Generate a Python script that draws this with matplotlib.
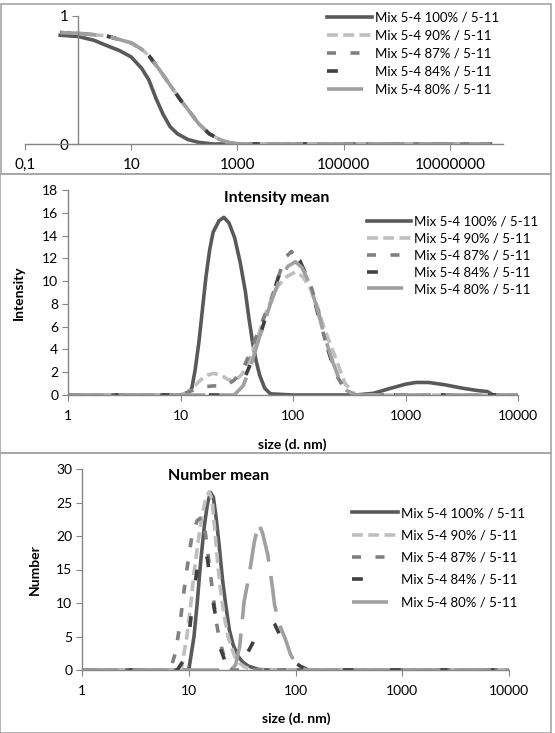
import matplotlib
matplotlib.use("Agg")
import matplotlib.pyplot as plt
from matplotlib.patches import Rectangle

plt.rcParams['font.family'] = ['Lato', 'DejaVu Sans']

# ---- data ----
series_names = ["Mix 5-4 100% / 5-11", "Mix 5-4 90% / 5-11", "Mix 5-4 87% / 5-11",
                "Mix 5-4 84% / 5-11", "Mix 5-4 80% / 5-11"]

# top panel (correlation-like decay)
corr_x_100 = [0.46, 1, 2, 3.4, 6, 10, 15.8, 21.5, 29, 40, 54, 74, 117, 185, 340, 1e3, 1e5, 1e7, 5.8e7]
corr_100 = [0.85, 0.84, 0.81, 0.77, 0.73, 0.68, 0.59, 0.50, 0.36, 0.23, 0.135, 0.08, 0.035, 0.013, 0, 0, 0, 0, 0]
corr_x_rest = [0.46, 1, 3.4, 10, 15.8, 21.5, 34, 54, 86, 117, 185, 294, 464, 730, 1170, 1e5, 1e7, 5.8e7]
corr_rest = [0.87, 0.865, 0.845, 0.79, 0.74, 0.69, 0.58, 0.46, 0.34, 0.27, 0.16, 0.08, 0.035, 0.008, 0, 0, 0, 0]

# intensity panel
int_x_100 = [1, 10, 11.5, 12.6, 13.5, 14.6, 15.7, 16.9, 18.2, 19.5, 22, 24.3, 27, 30.3, 34, 37.7, 40.5,
             43.6, 47, 50.5, 56, 63, 100, 360, 519, 745, 1000, 1240, 1600, 2230, 3200, 4300, 5350, 6000, 10000]
int_100 = [0, 0, 0.15, 0.6, 2.2, 4.7, 7.6, 10.5, 12.8, 14.3, 15.3, 15.6, 15.1, 13.8, 11.6, 9.1, 6.8,
           4.7, 3.0, 1.75, 0.6, 0.1, 0, 0, 0.15, 0.6, 0.95, 1.1, 1.1, 0.9, 0.6, 0.4, 0.3, 0, 0]
int_x_90 = [1, 10, 11.5, 13, 15, 17.5, 19.6, 23, 26, 30, 35, 40.5, 47, 54, 63, 72.5, 88, 105, 122,
            140, 163, 187, 234, 290, 360, 10000]
int_90 = [0, 0, 0.2, 0.7, 1.3, 1.75, 1.9, 1.75, 1.4, 1.2, 1.8, 3.0, 4.6, 6.5, 8.2, 9.5, 10.4, 10.8, 10.4,
          9.5, 7.9, 6.0, 3.5, 1.0, 0, 0]
int_x_87 = [1, 10, 12, 15, 20, 25, 30, 36, 42, 50, 63, 75, 84, 97, 110, 125, 140, 165, 187, 215, 251,
            290, 340, 10000]
int_87 = [0, 0, 0.3, 0.7, 0.8, 0.8, 1.3, 2.3, 3.8, 5.8, 8.2, 10.5, 12.0, 12.6, 12.0, 11.0, 10.0, 7.7,
          5.3, 3.4, 1.5, 0.5, 0, 0]
int_x_84 = [1, 25, 31, 36, 44, 52, 63, 75, 88, 100, 115, 135, 160, 187, 220, 262, 300, 350, 10000]
int_84 = [0, 0, 0.3, 1.2, 3.2, 5.5, 8.2, 10.5, 12.0, 12.4, 11.8, 10.2, 7.8, 5.2, 3.0, 1.2, 0.4, 0, 0]
int_x_80 = [1, 30, 36, 42, 50, 63, 75, 90, 105, 120, 140, 165, 190, 220, 255, 300, 350, 10000]
int_80 = [0, 0, 0.8, 2.5, 5.0, 8.0, 10.0, 11.3, 11.7, 11.2, 9.8, 7.5, 5.2, 3.2, 1.5, 0.4, 0, 0]

# number panel
num_x_100 = [1, 10, 11.2, 12.0, 12.9, 14.0, 15, 16, 17, 18, 19.3, 20.7, 22.3, 24, 26, 28.8, 32, 36,
             44.6, 55, 10000]
num_100 = [0, 0, 5, 10, 16, 21.5, 24.9, 26.5, 25.8, 22.9, 18.5, 13.5, 9.5, 6, 3.8, 2.1, 1.2, 0.6,
           0.1, 0, 0]
num_x_90 = [1, 8.5, 9.6, 10.4, 11.2, 12.2, 13.3, 14.4, 15.5, 16.5, 17.5, 18.8, 20, 21.5, 23.5, 26.8,
            30, 33, 40, 10000]
num_90 = [0, 0, 5, 9.5, 14.5, 19, 23, 25.5, 26.6, 25.5, 21, 15.5, 11.5, 8, 4.8, 2.1, 1.0, 0.5, 0, 0]
num_x_87 = [1, 6.3, 7.0, 7.5, 8.3, 9.3, 10.7, 12, 13.2, 14.3, 15.5, 16.8, 18, 19.4, 21, 22.6, 25, 28,
            10000]
num_87 = [0, 0, 1.0, 2.5, 7, 13.5, 20, 22.3, 22.8, 20.5, 16, 11.5, 7.5, 4.5, 2.5, 1, 0.2, 0, 0]
num_x_84 = [1, 7.8, 9, 10, 10.7, 11.6, 12.4, 13.2, 14, 15, 16, 17, 18.5, 20, 22, 24, 26.8, 30, 34,
            38.8, 45, 52, 57, 64, 75, 88, 98, 110, 124, 140, 10000]
num_84 = [0, 0, 1.5, 5, 9, 13.5, 16.5, 18.2, 18.5, 16.5, 13, 10, 6.5, 3, 1.2, 0.5, 0.3, 0.8, 2,
          3.7, 5.8, 7.3, 7.7, 6.8, 4.5, 2.3, 1.2, 0.6, 0.2, 0, 0]
num_x_80 = [1, 25, 27.5, 30, 33, 37, 41, 45, 49, 55, 60, 64, 72, 80, 90, 100, 115, 130, 10000]
num_80 = [0, 0, 0.8, 3.5, 10.2, 14.4, 19, 21.9, 20.5, 17.2, 13, 9.5, 6.5, 4.7, 2.3, 1.0, 0.2, 0, 0]

colors = ["#595959", "#bfbfbf", "#808080", "#404040", "#a0a0a0"]
dashes = ["-", (0, (3, 1.5)), (0, (2.5, 4)), (0, (3, 10)), (0, (10, 4))]
LW = 2.6
AXC = "#868686"

W, H = 555.0, 733.0


def box(l, t, r, b):
    return [l / W, 1 - b / H, (r - l) / W, (b - t) / H]


fig = plt.figure(figsize=(W / 100, H / 100), dpi=100)

# panel frames
for (l, t, r, b) in [(1, 4, 551, 174), (0, 174, 551, 453), (0, 453, 551, 733)]:
    fig.add_artist(Rectangle((l / W, 1 - b / H), (r - l) / W, (b - t) / H, transform=fig.transFigure,
                             fill=False, edgecolor="#a6a6a6", lw=1.2))


def style_axes(ax, fs):
    for s in ["top", "right"]:
        ax.spines[s].set_visible(False)
    for s in ["left", "bottom"]:
        ax.spines[s].set_color(AXC)
        ax.spines[s].set_linewidth(1.0)
    ax.tick_params(axis="both", which="major", length=4, color=AXC, labelsize=fs, pad=3)
    ax.tick_params(axis="both", which="minor", length=0)
    ax.set_facecolor("none")


def add_legend(ax, handles, left, top, spacing, hl):
    ax.legend(handles, series_names, loc="upper left", bbox_to_anchor=(left / W, 1 - top / H),
              bbox_transform=fig.transFigure, frameon=False, borderpad=0, borderaxespad=0,
              handlelength=hl, handletextpad=0.25, labelspacing=spacing, fontsize=9.5)


# ---- top panel ----
ax1 = fig.add_axes(box(25, 16, 503, 144))
h = []
h += ax1.plot(corr_x_100, corr_100, color=colors[0], ls=dashes[0], lw=LW)
for i in range(1, 5):
    h += ax1.plot(corr_x_rest, corr_rest, color=colors[i], ls=dashes[i], lw=LW)
ax1.set_xscale("log")
ax1.set_xlim(0.1, 1e8)
ax1.set_ylim(0, 1)
style_axes(ax1, 11)
ax1.spines["left"].set_position(("data", 1))
ax1.set_xticks([0.1, 10, 1000, 100000, 10000000], ["0,1", "10", "1000", "100000", "10000000"])
ax1.set_yticks([0, 1], ["0", "1"])
ax1.tick_params(axis="x", pad=6)
add_legend(ax1, h, 327, 12, 0.45, 3.4)

# ---- intensity panel ----
ax2 = fig.add_axes(box(68, 190, 518, 395))
h = []
for xs, ys, c, d in zip([int_x_100, int_x_90, int_x_87, int_x_84, int_x_80],
                        [int_100, int_90, int_87, int_84, int_80], colors, dashes):
    h += ax2.plot(xs, ys, color=c, ls=d, lw=LW)
ax2.set_xscale("log")
ax2.set_xlim(1, 10000)
ax2.set_ylim(0, 18)
style_axes(ax2, 10)
ax2.set_xticks([1, 10, 100, 1000, 10000], ["1", "10", "100", "1000", "10000"])
ax2.set_yticks(range(0, 19, 2))
ax2.tick_params(axis="x", pad=7)
ax2.text(0.464, 0.961, "Intensity mean", transform=ax2.transAxes, ha="center", va="center",
         fontsize=11.5, fontweight="bold")
ax2.set_xlabel("size (d. nm)", fontsize=10, fontweight="bold")
ax2.xaxis.set_label_coords((292 - 68) / 450, -(438 - 395) / 205)
ax2.set_ylabel("Intensity", fontsize=10, fontweight="bold")
ax2.yaxis.set_label_coords(-(68 - 25) / 450, (395 - 293) / 205)
add_legend(ax2, h, 367, 216, 0.36, 3.3)

# ---- number panel ----
ax3 = fig.add_axes(box(82, 469, 509, 670))
h = []
for xs, ys, c, d in zip([num_x_100, num_x_90, num_x_87, num_x_84, num_x_80],
                        [num_100, num_90, num_87, num_84, num_80], colors, dashes):
    h += ax3.plot(xs, ys, color=c, ls=d, lw=LW)
ax3.set_xscale("log")
ax3.set_xlim(1, 10000)
ax3.set_ylim(0, 30)
style_axes(ax3, 10)
ax3.set_xticks([1, 10, 100, 1000, 10000], ["1", "10", "100", "1000", "10000"])
ax3.set_yticks(range(0, 31, 5))
ax3.tick_params(axis="x", pad=7)
ax3.text((219 - 82) / 427, (670 - 476) / 201, "Number mean", transform=ax3.transAxes, ha="center",
         va="center", fontsize=11.5, fontweight="bold")
ax3.set_xlabel("size (d. nm)", fontsize=10, fontweight="bold")
ax3.xaxis.set_label_coords((296 - 82) / 427, -(712 - 670) / 201)
ax3.set_ylabel("Number", fontsize=10, fontweight="bold")
ax3.yaxis.set_label_coords(-(82 - 41) / 427, (670 - 570) / 201)
add_legend(ax3, h, 352, 507, 0.78, 3.5)

fig.savefig("out.png", dpi=100)
